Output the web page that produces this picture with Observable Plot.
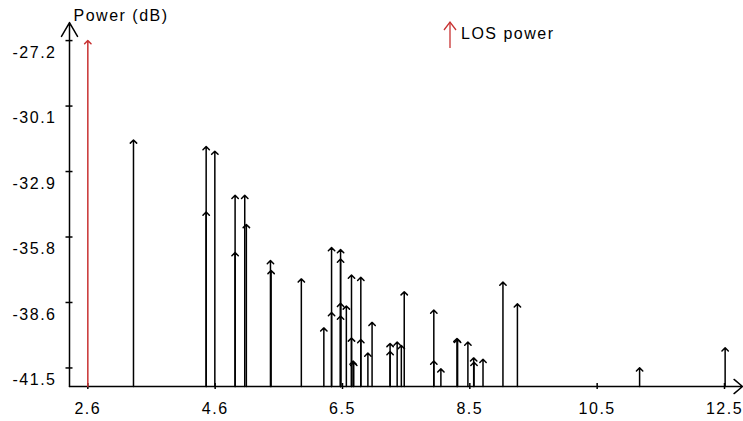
<!DOCTYPE html>
<html><head><meta charset="utf-8">
<script src="https://cdn.jsdelivr.net/npm/d3@7"></script>
<script src="https://cdn.jsdelivr.net/npm/@observablehq/plot@0.6"></script>
<style>body{margin:0;background:#fff;}</style>
</head><body><div id="chart"></div>
<script>
// LOS (line of sight) component
const losDelay = [2.6];
const losPower = [-27.2];

// Multipath components
const pathDelay = [3.31, 4.44, 4.44, 4.575, 4.89, 4.89, 5.04, 5.065, 5.44, 5.45,
  5.92, 6.27, 6.39, 6.39, 6.53, 6.53, 6.53, 6.53, 6.62, 6.70,
  6.70, 6.725, 6.735, 6.845, 6.845, 6.955, 7.02, 7.30, 7.30, 7.41,
  7.475, 7.52, 7.98, 7.98, 8.09, 8.34, 8.35, 8.51, 8.60, 8.605,
  8.745, 9.055, 9.28, 11.18, 12.51];
const pathPower = [-31.54, -31.83, -34.69, -32.03, -33.96, -36.46, -33.96, -35.23, -36.81, -37.24,
  -37.61, -39.75, -36.24, -39.08, -36.33, -36.74, -38.68, -39.23, -38.79, -37.44,
  -40.19, -41.20, -41.25, -37.54, -40.26, -40.85, -39.51, -40.43, -40.78, -40.37,
  -40.52, -38.17, -38.97, -41.20, -41.54, -40.21, -40.25, -40.37, -41.06, -41.25,
  -41.12, -37.75, -38.70, -41.49, -40.62];

const xTickValues = [2.6, 4.58, 6.56, 8.54, 10.52, 12.5];
const xTickLabels = ["2.6", "4.6", "6.5", "8.5", "10.5", "12.5"];
const yTickValues = [-27.2, -30.06, -32.92, -35.78, -38.64, -41.5];
const yTickLabels = ["-27.2", "-30.1", "-32.9", "-35.8", "-38.6", "-41.5"];
const yTitle = "Power (dB)";
const legendLabel = "LOS power";
const xDomain = [2.315, 12.78];
const yDomain = [-42.31, -26.41];

const losColor = "#c83232";
const paths = pathDelay.map((d, i) => ({delay: d, power: pathPower[i]}));
const los = losDelay.map((d, i) => ({delay: d, power: losPower[i]}));
const xLabelMap = new Map(xTickValues.map((v, i) => [v, xTickLabels[i]]));
const yLabelMap = new Map(yTickValues.map((v, i) => [v, yTickLabels[i]]));

function legendMark(index, scales, values, dims) {
  const g = d3.create("svg:g");
  const ax = 450, top = 22, bottom = 48;
  g.append("line").attr("x1", ax).attr("x2", ax).attr("y1", bottom).attr("y2", top)
    .attr("stroke", losColor).attr("stroke-width", 1.3);
  g.append("path").attr("d", `M${ax - 6},${top + 8}L${ax},${top}L${ax + 6},${top + 8}`)
    .attr("fill", "none").attr("stroke", losColor).attr("stroke-width", 1.3);
  g.append("text").attr("x", 461).attr("y", 38.5).attr("fill", "black")
    .attr("text-anchor", "start").text(legendLabel);
  return g.node();
}

const chart = Plot.plot({
  width: 743,
  height: 421,
  marginLeft: 69,
  marginRight: 1,
  marginTop: 22,
  marginBottom: 35,
  x: {domain: xDomain},
  y: {domain: yDomain},
  style: {
    fontFamily: "'Liberation Sans', Arial, sans-serif",
    fontSize: "16px",
    letterSpacing: "1.5px",
    background: "white",
    color: "black",
    overflow: "visible"
  },
  marks: [
    // axis ticks crossing the axis lines
    Plot.axisX(xTickValues, {tickSize: 6, dy: -3, tickFormat: () => "", strokeWidth: 1.5, label: null}),
    Plot.axisX(xTickValues, {tickSize: 0, tickPadding: 16, tickFormat: d => xLabelMap.get(d), label: null}),
    Plot.axisY(yTickValues, {tickSize: 7, dx: 3.5, tickFormat: () => "", strokeWidth: 1.5, label: null}),
    Plot.axisY(yTickValues, {tickSize: 0, tickPadding: 13, dy: 12, tickFormat: d => yLabelMap.get(d), label: null}),
    // axis lines with arrow heads
    Plot.arrow([0], {x1: xDomain[0], x2: xDomain[0], y1: yDomain[0], y2: yDomain[1],
      stroke: "black", strokeWidth: 1.5, headLength: 16, headAngle: 60}),
    Plot.arrow([0], {x1: xDomain[0], x2: xDomain[1], y1: yDomain[0], y2: yDomain[0],
      stroke: "black", strokeWidth: 1.5, headLength: 11, headAngle: 80}),
    // multipath arrows
    Plot.arrow(paths, {x1: "delay", x2: "delay", y1: yDomain[0], y2: "power",
      stroke: "black", strokeWidth: 1.5, headLength: 4.5, headAngle: 90}),
    // LOS arrow
    Plot.arrow(los, {x1: "delay", x2: "delay", y1: yDomain[0], y2: "power",
      stroke: losColor, strokeWidth: 1.5, headLength: 4.5, headAngle: 90}),
    Plot.text([yTitle], {frameAnchor: "top-left", textAnchor: "start", lineAnchor: "top", dx: 4, dy: -12.4}),
    legendMark
  ]
});
document.getElementById("chart").append(chart);
</script>
</body></html>
